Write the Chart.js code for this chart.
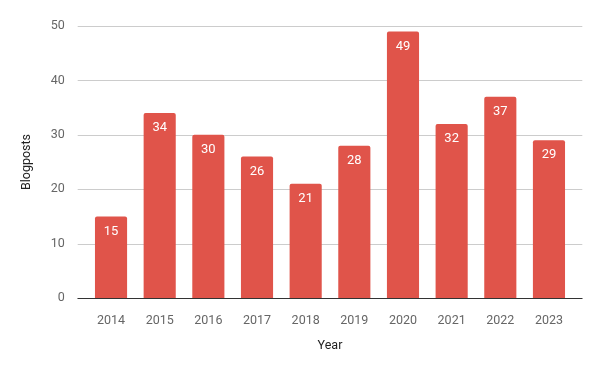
<!DOCTYPE html>
<html>
<head>
<meta charset="utf-8">
<script src="https://cdn.jsdelivr.net/npm/chart.js@4"></script>
<style>
html,body{margin:0;padding:0;background:#fff;}
#wrap{width:600px;height:371px;}
</style>
</head>
<body>
<div id="wrap"><canvas id="c" width="600" height="371"></canvas></div>
<script>
const categories = ['2014','2015','2016','2017','2018','2019','2020','2021','2022','2023'];
const blogposts = [15, 34, 30, 26, 21, 28, 49, 32, 37, 29];
const yTicks = [0, 10, 20, 30, 40, 50];

const FONT = 'Roboto, "Liberation Sans", Arial, sans-serif';
const TXT = '#666666';

const gridPlugin = {
  id: 'grid',
  beforeDatasetsDraw(chart) {
    const {ctx, chartArea} = chart;
    const y = chart.scales.y;
    ctx.save();
    yTicks.forEach(v => {
      const py = Math.round(y.getPixelForValue(v)) + 0.5;
      ctx.beginPath();
      ctx.strokeStyle = v === 0 ? '#333333' : '#cccccc';
      ctx.lineWidth = 1;
      ctx.moveTo(chartArea.left - 9, py);
      ctx.lineTo(chartArea.right + 9, py);
      ctx.stroke();
    });
    ctx.restore();
  },
  afterDatasetsDraw(chart) {
    const {ctx} = chart;
    const meta = chart.getDatasetMeta(0);
    const y = chart.scales.y;
    ctx.save();
    ctx.beginPath();
    const py = Math.round(y.getPixelForValue(0)) + 0.5;
    ctx.strokeStyle = '#333333';
    ctx.moveTo(chart.chartArea.left - 9, py);
    ctx.lineTo(chart.chartArea.right + 9, py);
    ctx.stroke();
    ctx.fillStyle = '#ffffff';
    ctx.font = '13px ' + FONT;
    ctx.textAlign = 'center';
    ctx.textBaseline = 'middle';
    meta.data.forEach((bar, i) => {
      ctx.fillText(String(blogposts[i]), bar.x, bar.y + 15);
    });
    ctx.restore();
  }
};

new Chart(document.getElementById('c'), {
  type: 'bar',
  data: {
    labels: categories,
    datasets: [{
      label: 'Blogposts',
      data: blogposts,
      backgroundColor: '#e0544a',
      borderRadius: 2,
      borderSkipped: 'bottom',
      categoryPercentage: 1,
      barPercentage: 0.66
    }]
  },
  options: {
    responsive: false,
    animation: false,
    devicePixelRatio: 1,
    layout: {padding: {top: 26, right: 26.7, bottom: 0, left: 0}},
    plugins: {legend: {display: false}, tooltip: {enabled: false}},
    scales: {
      x: {
        grid: {display: false},
        border: {display: false},
        ticks: {color: TXT, font: {family: FONT, size: 12.5}, padding: 7, maxRotation: 0},
        title: {display: true, text: 'Year', color: '#222', font: {family: FONT, size: 12.5}, padding: {top: 0, bottom: 18}},
        afterFit(s) { s.height = 73; }
      },
      y: {
        min: 0, max: 50,
        grid: {display: false},
        border: {display: false},
        afterBuildTicks(s) { s.ticks = yTicks.map(v => ({value: v})); },
        ticks: {color: TXT, font: {family: FONT, size: 12.5}, padding: 14},
        title: {display: true, text: 'Blogposts', color: '#222', font: {family: FONT, size: 12.5}, padding: {top: 19, bottom: 0}},
        afterFit(s) { s.width = 86.7; }
      }
    }
  },
  plugins: [gridPlugin]
});
</script>
</body>
</html>
